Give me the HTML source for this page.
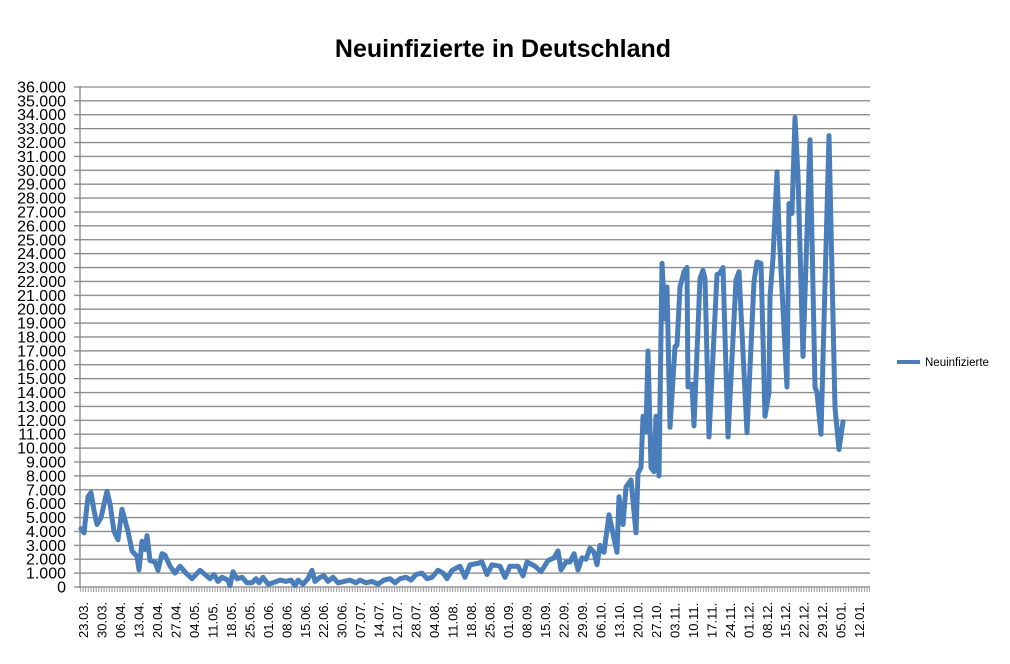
<!DOCTYPE html>
<html><head><meta charset="utf-8"><style>
body{margin:0;background:#fff}
svg{display:block;font-family:"Liberation Sans",sans-serif}
</style></head><body>
<svg width="1010" height="664" xmlns="http://www.w3.org/2000/svg">
<defs>
<pattern id="gp" x="0" y="86.3" width="10" height="13.89" patternUnits="userSpaceOnUse">
<rect x="0" y="0" width="10" height="1.3" fill="#868686"/>
</pattern>
<pattern id="tp" x="82.5" y="0" width="2.64" height="10" patternUnits="userSpaceOnUse">
<rect x="0" y="0" width="1" height="10" fill="#9a9a9a"/>
</pattern>
</defs>
<rect width="1010" height="664" fill="#fff"/>
<text x="503" y="57" text-anchor="middle" font-size="25" font-weight="bold" fill="#000">Neuinfizierte in Deutschland</text>
<rect x="74" y="86.3" width="796" height="502" fill="url(#gp)"/>
<rect x="80" y="587" width="790" height="5" fill="url(#tp)"/>
<line x1="80" y1="86" x2="80" y2="588" stroke="#868686" stroke-width="1.3"/>
<g font-size="16" fill="#000" text-anchor="end">
<text x="66" y="592.5">0</text><text x="66" y="578.6">1.000</text><text x="66" y="564.7">2.000</text><text x="66" y="550.8">3.000</text><text x="66" y="536.9">4.000</text><text x="66" y="523.1">5.000</text><text x="66" y="509.2">6.000</text><text x="66" y="495.3">7.000</text><text x="66" y="481.4">8.000</text><text x="66" y="467.5">9.000</text><text x="66" y="453.6">10.000</text><text x="66" y="439.7">11.000</text><text x="66" y="425.8">12.000</text><text x="66" y="411.9">13.000</text><text x="66" y="398">14.000</text><text x="66" y="384.2">15.000</text><text x="66" y="370.3">16.000</text><text x="66" y="356.4">17.000</text><text x="66" y="342.5">18.000</text><text x="66" y="328.6">19.000</text><text x="66" y="314.7">20.000</text><text x="66" y="300.8">21.000</text><text x="66" y="286.9">22.000</text><text x="66" y="273">23.000</text><text x="66" y="259.1">24.000</text><text x="66" y="245.3">25.000</text><text x="66" y="231.4">26.000</text><text x="66" y="217.5">27.000</text><text x="66" y="203.6">28.000</text><text x="66" y="189.7">29.000</text><text x="66" y="175.8">30.000</text><text x="66" y="161.9">31.000</text><text x="66" y="148">32.000</text><text x="66" y="134.1">33.000</text><text x="66" y="120.2">34.000</text><text x="66" y="106.4">35.000</text><text x="66" y="92.5">36.000</text>
</g>
<g font-size="13" fill="#000">
<text transform="translate(88,638) rotate(-90)">23.03.</text>
<text transform="translate(106.5,638) rotate(-90)">30.03.</text>
<text transform="translate(125,638) rotate(-90)">06.04.</text>
<text transform="translate(143.4,638) rotate(-90)">13.04.</text>
<text transform="translate(161.9,638) rotate(-90)">20.04.</text>
<text transform="translate(180.4,638) rotate(-90)">27.04.</text>
<text transform="translate(198.9,638) rotate(-90)">04.05.</text>
<text transform="translate(217.4,638) rotate(-90)">11.05.</text>
<text transform="translate(235.8,638) rotate(-90)">18.05.</text>
<text transform="translate(254.3,638) rotate(-90)">25.05.</text>
<text transform="translate(272.8,638) rotate(-90)">01.06.</text>
<text transform="translate(291.3,638) rotate(-90)">08.06.</text>
<text transform="translate(309.8,638) rotate(-90)">15.06.</text>
<text transform="translate(328.2,638) rotate(-90)">22.06.</text>
<text transform="translate(346.7,638) rotate(-90)">30.06.</text>
<text transform="translate(365.2,638) rotate(-90)">07.07.</text>
<text transform="translate(383.7,638) rotate(-90)">14.07.</text>
<text transform="translate(402.2,638) rotate(-90)">21.07.</text>
<text transform="translate(420.6,638) rotate(-90)">28.07.</text>
<text transform="translate(439.1,638) rotate(-90)">04.08.</text>
<text transform="translate(457.6,638) rotate(-90)">11.08.</text>
<text transform="translate(476.1,638) rotate(-90)">18.08.</text>
<text transform="translate(494.6,638) rotate(-90)">25.08.</text>
<text transform="translate(513,638) rotate(-90)">01.09.</text>
<text transform="translate(531.5,638) rotate(-90)">08.09.</text>
<text transform="translate(550,638) rotate(-90)">15.09.</text>
<text transform="translate(568.5,638) rotate(-90)">22.09.</text>
<text transform="translate(587,638) rotate(-90)">29.09.</text>
<text transform="translate(605.4,638) rotate(-90)">06.10.</text>
<text transform="translate(623.9,638) rotate(-90)">13.10.</text>
<text transform="translate(642.4,638) rotate(-90)">20.10.</text>
<text transform="translate(660.9,638) rotate(-90)">27.10.</text>
<text transform="translate(679.4,638) rotate(-90)">03.11.</text>
<text transform="translate(697.8,638) rotate(-90)">10.11.</text>
<text transform="translate(716.3,638) rotate(-90)">17.11.</text>
<text transform="translate(734.8,638) rotate(-90)">24.11.</text>
<text transform="translate(753.3,638) rotate(-90)">01.12.</text>
<text transform="translate(771.8,638) rotate(-90)">08.12.</text>
<text transform="translate(790.2,638) rotate(-90)">15.12.</text>
<text transform="translate(808.7,638) rotate(-90)">22.12.</text>
<text transform="translate(827.2,638) rotate(-90)">29.12.</text>
<text transform="translate(845.7,638) rotate(-90)">05.01.</text>
<text transform="translate(864.2,638) rotate(-90)">12.01.</text>
</g>
<polyline fill="none" stroke="#4a7ebb" stroke-width="5" stroke-linejoin="round" stroke-linecap="round" points="81,528.7 84,532.8 88,496.7 91,492.5 94,510.6 97,524.5 101,517.6 107,491.2 110,503.7 114,531.4 118,539.8 122,509.2 128,531.4 132,550.9 137,556.4 139,569.9 142,541.2 145,549.5 147,535.6 150,560.6 155,562 158,570.3 162,553.7 165,555.1 170,566.2 175,573.1 180,566.2 186,573.1 192,578.7 200,570.3 205,574.5 210,578.7 214,574.5 218,581.4 222,577.3 228,580.1 230,585.6 233,571.7 237,578.7 242,577.3 247,582.8 252,582.8 256,578.7 259,582.8 263,577.3 268,584.2 273,582.8 280,580.1 286,581.4 291,580.1 295,585.6 298,580.1 303,584.2 308,578.7 312,570.3 315,581.4 320,577.3 324,575.9 328,581.4 333,577.3 338,582.8 344,581.4 350,580.1 356,582.8 360,580.1 366,582.8 372,581.4 378,584.2 384,580.1 390,578.7 395,582.8 400,578.7 406,577.3 411,580.1 416,574.5 422,573.1 427,578.7 432,577.3 438,570.3 443,573.1 447,578.7 452,570.3 460,566.2 465,577.3 470,564.8 478,563.4 482,562 487,574.5 492,564.8 500,566.2 505,577.3 510,566.2 518,566.2 523,575.9 527,562 535,566.2 541,571.7 548,560.6 554,557.8 558,550.9 561,569.9 566,562 570,562 574,553.7 578,569.9 582,557.8 586,559.2 590,548.1 594,552.3 597,564.8 600,545.3 604,552.3 609,514.8 617,552.3 619,496.7 623,524.5 626,487 631,480 636,532.8 638,473.1 641,467.5 643,416.2 646,431.4 648,350.9 651,467.5 654,471.7 656,416.2 659,475.9 662,263.4 665,318.9 667,287 670,427.3 675,346.7 677,345.3 680,287 684,271.7 687,267.5 688,387 692,384.2 694,425.9 700,278.6 703,270.3 705,278.6 709,437 717,274.5 720,273.1 723,267.5 728,437 736,280 739,271.7 747,432.8 754,281.4 757,262 761,263.4 765,416.2 769,392.5 770,296.7 773,257.8 777,171.7 779,230 787,387 789,203.6 792,213.4 795,117.5 798,175.9 803,356.4 810,139.7 815,387 817,392.5 821,434.2 829,135.6 835,407.8 839,449.5 843,421.7"/>
<line x1="897" y1="362" x2="920" y2="362" stroke="#4a7ebb" stroke-width="4"/>
<text x="925" y="366" font-size="11.5" fill="#000">Neuinfizierte</text>
</svg>
</body></html>
